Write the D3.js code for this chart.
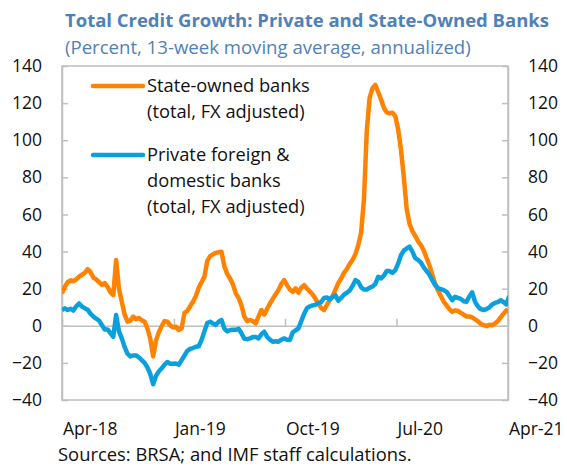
<!DOCTYPE html>
<html>
<head>
<meta charset="utf-8">
<script src="https://cdn.jsdelivr.net/npm/d3@7"></script>
<style>
  body { margin: 0; background: #fff; }
  svg { display: block; font-family: "Open Sans", "Noto Sans", sans-serif; }
</style>
</head>
<body>
<div class="chart"></div>
<script>
// weekly observations, first week below
const firstWeek = '2018-04-01';

// state-owned banks (total, FX adjusted), weekly
const stateOwned = [
  17.5, 21, 23.5, 24.5, 24, 25, 26.5, 27.5, 28.5, 30.5,
  29, 26, 25, 23.5, 22, 23, 21, 18, 16.6, 35.4,
  20, 13, 6, 2.2, 2.8, 4.9, 3.5, 4.2, 3, 2.2,
  -1.5, -7, -16.5, -8, -3.5, -0.2, 2.5, 2.2, 0.2, -0.9,
  -0.5, -2.3, -1.4, 7, 8, 10.5, 13, 16, 20.5, 23.5,
  26.5, 35, 37.5, 38.5, 39.3, 39.6, 39.9, 32, 28, 25.5,
  22.3, 17.5, 15, 11, 5, 2.5, 3.1, 2.5, 1.3, 5,
  8.5, 6, 9, 12, 14.5, 17, 19.2, 22.5, 24.6, 21.9,
  19.5, 18.3, 20.2, 17.8, 20.5, 21.9, 20, 18.5, 16.8, 14.5,
  12, 9.5, 8.5, 11.2, 14, 16, 19.5, 23, 25.5, 28.5,
  30.5, 33.3, 35.5, 38.5, 43.5, 50, 68, 105, 123, 128,
  129.8, 126, 122, 117.5, 115, 114.5, 114.8, 113, 106, 95,
  80, 63, 55, 51, 48.5, 45.5, 43.5, 40.5, 36.5, 32.5,
  27.5, 22.5, 19, 16, 13, 11, 9, 7.5, 8.3, 8,
  7, 6, 5, 5, 4.5, 3.5, 2.5, 1, 0.3, -0.2,
  0.5, 0.3, 1.2, 2.5, 4.5, 6.5, 8.3, 7.5
];

// private foreign & domestic banks (total, FX adjusted), weekly
const privateBanks = [
  8.5, 9.4, 8.5, 9.2, 8.2, 10.5, 12, 10.4, 9.5, 8.7,
  6.5, 5, 3.8, 2.8, 0.4, -2, -2, -4, -5.9, 5.8,
  -3, -6.8, -11.5, -15, -16.5, -16, -16, -17, -18.5, -20,
  -22.5, -26, -31.5, -27, -24.5, -23, -21, -19.5, -20.5, -20.5,
  -20.3, -21, -18.5, -16, -13.5, -12.5, -12, -11.3, -11, -7.7,
  -3, 1.5, 2.2, 1.2, 0.5, 2.2, 3.1, -1.5, -3, -2.3,
  -2.1, -2.2, -1.6, -4, -7, -7.2, -6.8, -6, -6, -6.8,
  -4.5, -3.2, -6, -7.5, -8.6, -8.3, -8.6, -7.5, -6.8, -7.5,
  -7.7, -3.5, -2.5, -1.4, 2.5, 6.5, 9.5, 10.5, 11, 11.3,
  12.1, 12.8, 15, 15.3, 14.2, 15.5, 16.5, 13.5, 15, 16.8,
  17.8, 19, 21.5, 24.6, 23.7, 20.8, 19.5, 19.5, 20.5, 21.2,
  22.5, 26.4, 25.5, 27, 29.5, 29.5, 28.5, 30, 33.5, 38,
  40.5, 41.7, 42.6, 40, 36.5, 35.5, 34, 31.5, 29.5, 27.5,
  24.5, 22, 20.3, 19.7, 19.2, 18.3, 16, 13.8, 15.6, 15,
  14.5, 13.2, 13, 15.8, 18, 12.9, 10.5, 9, 8.5, 9,
  9.8, 11.5, 12.3, 12.8, 13.8, 12.8, 11.5, 16
];

const yTicks = [-40, -20, 0, 20, 40, 60, 80, 100, 120, 140];
const xTickDates = ['2018-04-01', '2019-01-01', '2019-10-01', '2020-07-01', '2021-04-01'];
const xTickLabels = ['Apr-18', 'Jan-19', 'Oct-19', 'Jul-20', 'Apr-21'];

const seriesNames = [
  ['State-owned banks', '(total, FX adjusted)'],
  ['Private foreign &', 'domestic banks', '(total, FX adjusted)']
];
const seriesColors = ['#ff8200', '#0aa0de'];

const titleText = 'Total Credit Growth: Private and State-Owned Banks';
const subtitleText = '(Percent, 13-week moving average, annualized)';
const sourceText = 'Sources: BRSA; and IMF staff calculations.';

let width = 567, height = 466;
let plot = { left: 62, right: 508, top: 66, bottom: 400 };
let grey = '#bfbfbf';
let titleColor = '#4f81b9';
let ink = '#111';

let parse = d3.timeParse('%Y-%m-%d');
let start = parse(firstWeek);

// scale a text's font so it spans the width seen in the original
function fitWidth(sel, target) {
  let size = parseFloat(sel.style('font-size'));
  let len = sel.node().getComputedTextLength();
  sel.style('font-size', (size * target / len).toFixed(2) + 'px');
  return sel;
}

let canvas = d3.select('.chart')
  .append('svg')
  .attr('width', width)
  .attr('height', height);

let x = d3.scaleTime()
  .domain([parse(xTickDates[0]), parse(xTickDates[xTickDates.length - 1])])
  .range([plot.left, plot.right]);

let y = d3.scaleLinear()
  .domain([-40, 140])
  .range([plot.bottom, plot.top]);

// titles
let title = canvas.append('text')
  .attr('x', 65).attr('y', 27)
  .attr('fill', titleColor)
  .style('font-size', '17px').style('font-weight', 'bold')
  .text(titleText);
fitWidth(title, 484);

let subtitle = canvas.append('text')
  .attr('x', 65).attr('y', 54)
  .attr('fill', titleColor)
  .style('font-size', '16.5px')
  .text(subtitleText);
fitWidth(subtitle, 406);

// frame
canvas.append('rect')
  .attr('x', plot.left).attr('y', plot.top)
  .attr('width', plot.right - plot.left).attr('height', plot.bottom - plot.top)
  .attr('fill', 'none').attr('stroke', grey).attr('stroke-width', 1.5);

// y axes
let left = canvas.append('g')
  .attr('transform', `translate(${plot.left}, 0)`)
  .call(d3.axisLeft(y).tickValues(yTicks).tickSize(-6).tickSizeOuter(0).tickPadding(20));

let right = canvas.append('g')
  .attr('transform', `translate(${plot.right}, 0)`)
  .call(d3.axisRight(y).tickValues(yTicks).tickSize(-6).tickSizeOuter(0).tickPadding(20));

// x axis sits on the zero line
let bottom = canvas.append('g')
  .attr('transform', `translate(0, ${y(0)})`)
  .call(d3.axisBottom(x).tickValues(xTickDates.map(parse)).tickSize(-7).tickSizeOuter(0).tickFormat(''));

[left, right, bottom].forEach(g => {
  g.selectAll('path, line').attr('stroke', grey).attr('stroke-width', 1.5);
  g.selectAll('text').attr('fill', ink).style('font-size', '17.5px')
    .style('font-family', '"Open Sans", "Noto Sans", sans-serif');
});

canvas.selectAll('.x-label')
  .data(xTickDates)
  .enter().append('text')
  .attr('class', 'x-label')
  .attr('x', d => x(parse(d)) + 1)
  .attr('y', 435)
  .attr('fill', ink)
  .style('font-size', '17.5px')
  .text((d, i) => xTickLabels[i]);

let source = canvas.append('text')
  .attr('x', 58).attr('y', 461)
  .attr('fill', ink)
  .style('font-size', '16.5px')
  .text(sourceText);
fitWidth(source, 354);

// lines
let line = d3.line()
  .x((d, i) => x(d3.timeDay.offset(start, 7 * i)))
  .y(d => y(d));

canvas.append('clipPath').attr('id', 'plot-clip')
  .append('rect')
  .attr('x', plot.left).attr('y', plot.top - 10)
  .attr('width', plot.right - plot.left).attr('height', plot.bottom - plot.top + 10);

[stateOwned, privateBanks].forEach((values, i) => {
  canvas.append('path')
    .datum(values)
    .attr('clip-path', 'url(#plot-clip)')
    .attr('fill', 'none')
    .attr('stroke', seriesColors[i])
    .attr('stroke-width', 4.5)
    .attr('stroke-linejoin', 'round')
    .attr('d', line);
});

// legend
let legendY = [86, 155];
seriesNames.forEach((lines, i) => {
  canvas.append('line')
    .attr('x1', 93).attr('x2', 143)
    .attr('y1', legendY[i]).attr('y2', legendY[i])
    .attr('stroke', seriesColors[i]).attr('stroke-width', 4.5)
    .attr('stroke-linecap', 'round');
  canvas.selectAll(null)
    .data(lines)
    .enter().append('text')
    .attr('x', 147)
    .attr('y', (d, j) => legendY[i] + j * 26 + 6)
    .attr('fill', ink)
    .style('font-size', '18.3px')
    .text(d => d);
});
</script>
</body>
</html>
